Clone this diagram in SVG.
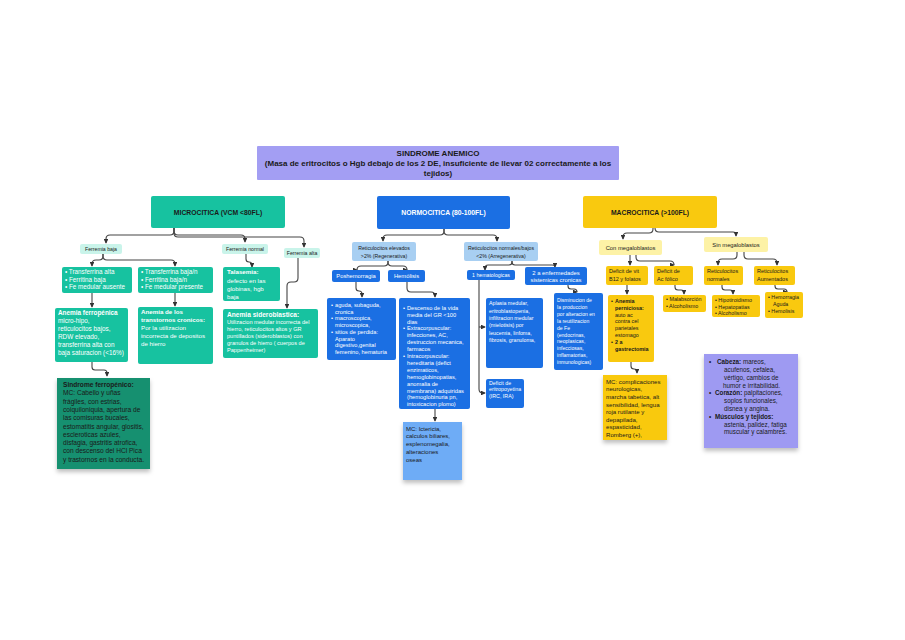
<svg xmlns="http://www.w3.org/2000/svg" width="905" height="640" viewBox="0 0 905 640">
<defs>
<style>
text{font-family:"Liberation Sans",Arial,sans-serif}
.w{fill:#ffffff}
.d{fill:#1a1a1a}
.b{font-weight:bold}
.c{text-anchor:middle}
.teal{fill:#17c2a0}
.mint{fill:#c9f4ea}
.blue{fill:#1b6fe3}
.lblue{fill:#a8cff2}
.yel{fill:#f9c90f}
.lyel{fill:#fdf2a6}
.lav{fill:#a39ef3}
.conn path{fill:none;stroke:#444;stroke-width:1.1;marker-end:url(#ah)}
</style>
<marker id="ah" viewBox="0 0 6 6" refX="5" refY="3" markerWidth="4.5" markerHeight="4.5" orient="auto"><path d="M0,0 L6,3 L0,6 z" fill="#333"/></marker>
<filter id="sh" x="-10%" y="-10%" width="120%" height="130%"><feDropShadow dx="0" dy="3" stdDeviation="2" flood-color="#000" flood-opacity="0.25"/></filter>
</defs>
<rect width="905" height="640" fill="#ffffff"/>

<g id="title">
<rect x="257" y="146" width="362" height="34" rx="1" class="lav"/>
<text x="438" y="156" font-size="8" class="d b c">SINDROME ANEMICO</text>
<text x="438" y="166" font-size="8" class="d b c">(Masa de eritrocitos o Hgb debajo de los 2 DE, insuficiente de llevar 02 correctamente a los</text>
<text x="438" y="175.5" font-size="8" class="d b c">tejidos)</text>
</g>

<g class="conn" id="connectors">
<path d="M174,228 v3 q0,4 -4,4 H110 q-4,0 -4,4 v4"/>
<path d="M174,228 v3 q0,4 4,4 H241 q4,0 4,4 v3"/>
<path d="M174,228 v5 q0,4 4,4 H300 q4,0 4,4 v6"/>
<path d="M103,254 v2 q0,4 -4,4 H96 q-4,0 -4,4 v2"/>
<path d="M103,254 v2 q0,4 4,4 H171 q4,0 4,4 v2"/>
<path d="M246,254 v5 q0,3 3,3 h0 q3,0 3,3 v2"/>
<path d="M298,258 v20 q0,4 -4,4 h-3 q-4,0 -4,4 v22"/>
<path d="M92,293 V307"/>
<path d="M175,293 V306"/>
<path d="M92,362 v5 q0,3 3,3 h9 q3,0 3,3 v3"/>
<path d="M444,229 v2 q0,4 -4,4 H387 q-4,0 -4,4 v2"/>
<path d="M444,229 v2 q0,4 4,4 H493 q4,0 4,4 v2"/>
<path d="M388,261 v1 q0,4 -4,4 H361 q-4,0 -4,4 v0"/>
<path d="M388,261 v1 q0,4 4,4 H403 q4,0 4,4 v0"/>
<path d="M512,261 v1 q0,3 -3,3 H488 q-3,0 -3,3 v2"/>
<path d="M512,261 v1 q0,3 3,3 H552 q3,0 3,2"/>
<path d="M356,282 v6 q0,3 3,3 h0 q3,0 3,3 v3"/>
<path d="M407,282 v6 q0,4 4,4 H431 q4,0 4,4 v1"/>
<path d="M435,409 V421"/>
<path d="M479,280 V389 q0,4 4,4 H485"/>
<path d="M479,327 H485"/>
<path d="M568,285 v1 q0,3 3,3 h3 q3,0 3,3 v0"/>
<path d="M653,228 v1 q0,4 -4,4 H627 q-4,0 -4,4 v2"/>
<path d="M655,228 q0,4 4,4 H733 q3,0 3,3 v1"/>
<path d="M630,255 V265"/>
<path d="M636,255 v2 q0,4 4,4 H670 q4,0 4,4 v0"/>
<path d="M737,252 v3 q0,4 -4,4 H722 q-4,0 -4,4 v2"/>
<path d="M744,252 v3 q0,4 4,4 H773 q4,0 4,4 v2"/>
<path d="M627,285 V294"/>
<path d="M675,285 v2 q0,3 3,3 h3 q3,0 3,3 v1"/>
<path d="M722,285 v2 q0,3 3,3 h5 q3,0 3,3 v1"/>
<path d="M775,285 v1 q0,3 3,3 h6 q3,0 3,3 v0"/>
<path d="M631,362 v4 q0,3 3,3 h0 q3,0 3,3 v1"/>
</g>

<g id="microcitica">
<rect x="151" y="196" width="134" height="32" rx="2" class="teal"/>
<text x="218" y="214.5" font-size="6.8" class="d b c">MICROCITICA (VCM &lt;80FL)</text>
</g>
<g id="normocitica">
<rect x="377" y="196" width="133" height="33" rx="2" class="blue"/>
<text x="443.5" y="215" font-size="6.8" class="w b c">NORMOCITICA (80-100FL)</text>
</g>
<g id="macrocitica">
<rect x="583" y="196" width="134" height="32" rx="2" class="yel"/>
<text x="650" y="214.5" font-size="6.8" class="d b c">MACROCITICA (&gt;100FL)</text>
</g>

<g id="ferremia-baja">
<rect x="80" y="244" width="42" height="10" rx="2" class="mint"/>
<text x="101" y="251" font-size="5.2" class="d c">Ferremia baja</text>
</g>
<g id="ferremia-normal">
<rect x="222" y="244" width="46" height="10" rx="2" class="mint"/>
<text x="245" y="251" font-size="5.2" class="d c">Ferremia normal</text>
</g>
<g id="ferremia-alta">
<rect x="284" y="248" width="36" height="10" rx="2" class="mint"/>
<text x="302" y="255" font-size="5.2" class="d c">Ferremia alta</text>
</g>

<g id="transferrina-alta">
<rect x="62" y="267" width="70" height="26" rx="2" class="teal"/>
<text font-size="6.3" class="w"><tspan x="65" y="274">• Transferrina alta</tspan><tspan x="65" y="281.5">• Ferritina baja</tspan><tspan x="65" y="289">• Fe medular ausente</tspan></text>
</g>
<g id="transferrina-baja">
<rect x="138" y="267" width="75" height="26" rx="2" class="teal"/>
<text font-size="6.3" class="w"><tspan x="141" y="274">• Transferrina baja/n</tspan><tspan x="141" y="281.5">• Ferritina baja/n</tspan><tspan x="141" y="289">• Fe medular presente</tspan></text>
</g>
<g id="talasemia">
<rect x="223" y="267" width="57" height="34" rx="2" class="teal"/>
<text font-size="6.2" class="w"><tspan x="227" y="274" class="b">Talasemia:</tspan><tspan x="227" y="283">defecto en las</tspan><tspan x="227" y="291">globinas, hgb</tspan><tspan x="227" y="299">baja</tspan></text>
</g>

<g id="anemia-ferropenica">
<rect x="55" y="308" width="73" height="54" rx="2" class="teal"/>
<text font-size="6.4" class="w"><tspan x="58" y="314.5" class="b">Anemia ferropénica</tspan><tspan x="58" y="322.5">micro-hipo,</tspan><tspan x="58" y="330.7">reticulocitos bajos,</tspan><tspan x="58" y="339">RDW elevado,</tspan><tspan x="58" y="347.2">transferrina alta con</tspan><tspan x="58" y="355.4">baja saturacion (&lt;16%)</tspan></text>
</g>
<g id="anemia-cronicos">
<rect x="138" y="307" width="75" height="57" rx="2" class="teal"/>
<text font-size="6.2" class="w"><tspan x="141" y="313.5" class="b">Anemia de los</tspan><tspan x="141" y="321.5" class="b">transtornos cronicos:</tspan><tspan x="141" y="329.5">Por la utilizacion</tspan><tspan x="141" y="337.5">incorrecta de depositos</tspan><tspan x="141" y="345.5">de hierro</tspan></text>
</g>
<g id="anemia-sideroblastica">
<rect x="223" y="309" width="95" height="49" rx="2" class="teal"/>
<text x="227" y="317" font-size="6.6" class="w b">Anemia sideroblastica:</text>
<text font-size="5.6" class="w"><tspan x="227" y="323.5">Utilizacion medular incorrecta del</tspan><tspan x="227" y="330.5">hierro, reticulocitos altos y GR</tspan><tspan x="227" y="337.5">puntillados (sideroblastos) con</tspan><tspan x="227" y="344.5">granulos de hierro ( cuerpos de</tspan><tspan x="227" y="351.5">Pappenheimer)</tspan></text>
</g>
<g id="sindrome-ferropenico">
<rect x="57" y="378" width="93" height="91" fill="#15906f" filter="url(#sh)"/>
<text font-size="6.6" class="d"><tspan x="63" y="387" class="b">Sindrome ferropénico:</tspan><tspan x="63" y="395.3">MC: Cabello y uñas</tspan><tspan x="63" y="403.6">frágiles, con estrias,</tspan><tspan x="63" y="412">coiquiloniquia, apertura de</tspan><tspan x="63" y="420.2">las comisuras bucales,</tspan><tspan x="63" y="428.5">estomatitis angular, glositis,</tspan><tspan x="63" y="436.8">escleroticas azules,</tspan><tspan x="63" y="445.1">disfagia, gastritis atrofica,</tspan><tspan x="63" y="453.4">con descenso del HCl Pica</tspan><tspan x="63" y="461.7">y trastornos en la conducta.</tspan></text>
</g>

<g id="ret-elevados">
<rect x="352" y="242" width="64" height="19" rx="2" class="lblue"/>
<text font-size="5.2" class="d c"><tspan x="384" y="250">Reticulocitos elevados</tspan><tspan x="384" y="258">&gt;2%  (Regenerativa)</tspan></text>
</g>
<g id="ret-normales-bajos">
<rect x="464" y="242" width="74" height="19" rx="2" class="lblue"/>
<text font-size="5.2" class="d c"><tspan x="501" y="250">Reticulocitos normales/bajos</tspan><tspan x="501" y="258">&lt;2% (Arregenerativa)</tspan></text>
</g>
<g id="poshemorragia">
<rect x="332" y="270" width="48" height="12" rx="2" class="blue"/>
<text x="356" y="278.3" font-size="5.8" class="w c">Poshemorragia</text>
</g>
<g id="hemolisis">
<rect x="388" y="270" width="37" height="12" rx="2" class="blue"/>
<text x="406.5" y="278.3" font-size="5.8" class="w c">Hemólisis</text>
</g>
<g id="hematologicas">
<rect x="467" y="270" width="48" height="10" rx="2" class="blue"/>
<text x="491" y="277" font-size="5.2" class="w c">1 hematologicas</text>
</g>
<g id="sistemicas">
<rect x="525" y="267" width="62" height="18" rx="2" class="blue"/>
<text font-size="5.9" class="w c"><tspan x="556" y="274.5">2 a enfermedades</tspan><tspan x="556" y="282.3">sistemicas cronicas</tspan></text>
</g>
<g id="agudas">
<rect x="327" y="298" width="69" height="62" rx="2" class="blue"/>
<text font-size="5.7" class="w"><tspan x="331" y="307">•</tspan><tspan x="335" y="307">aguda, subaguda,</tspan><tspan x="335" y="313.7">cronica</tspan><tspan x="331" y="320.4">•</tspan><tspan x="335" y="320.4">macroscopica,</tspan><tspan x="335" y="327.1">microscopica,</tspan><tspan x="331" y="333.8">•</tspan><tspan x="335" y="333.8">sitios de perdida:</tspan><tspan x="335" y="340.5">Aparato</tspan><tspan x="335" y="347.2">digestivo,genital</tspan><tspan x="335" y="353.9">femenino, hematuria</tspan></text>
</g>
<g id="descenso">
<rect x="399" y="298" width="71" height="111" rx="2" class="blue"/>
<text font-size="5.7" class="w"><tspan x="403" y="309.7">•</tspan><tspan x="407" y="309.7">Descenso de la vida</tspan><tspan x="407" y="316.6">media del GR &lt;100</tspan><tspan x="407" y="323.5">dias</tspan><tspan x="403" y="330.4">•</tspan><tspan x="407" y="330.4">Extracorpuscular:</tspan><tspan x="407" y="337.3">infecciones, AC,</tspan><tspan x="407" y="344.2">destruccion mecanica,</tspan><tspan x="407" y="351.1">farmacos</tspan><tspan x="403" y="358">•</tspan><tspan x="407" y="358">Intracorpuscular:</tspan><tspan x="407" y="364.9">hereditaria (defict</tspan><tspan x="407" y="371.8">enzimaticos,</tspan><tspan x="407" y="378.7">hemoglobinopatias,</tspan><tspan x="407" y="385.6">anomalia de</tspan><tspan x="407" y="392.5">membrana) adquiridas</tspan><tspan x="407" y="399.4">(hemoglobinuria pn,</tspan><tspan x="407" y="406.3">intoxicacion plomo)</tspan></text>
</g>
<g id="mc-ictericia">
<rect x="403" y="422" width="59" height="58" fill="#6eacf6" filter="url(#sh)"/>
<text font-size="6" class="d"><tspan x="406" y="430.5">MC: Ictericia,</tspan><tspan x="406" y="438.3">calculos biliares,</tspan><tspan x="406" y="446.1">esplenomegalia,</tspan><tspan x="406" y="453.9">alteraciones</tspan><tspan x="406" y="461.7">oseas</tspan></text>
</g>
<g id="aplasia">
<rect x="486" y="298" width="57" height="70" rx="2" class="blue"/>
<text font-size="5.3" class="w"><tspan x="489" y="305.3">Aplasia medular,</tspan><tspan x="489" y="312.6">eritroblastopenia,</tspan><tspan x="489" y="319.9">infiltracion medular</tspan><tspan x="489" y="327.2">(mielotisis) por</tspan><tspan x="489" y="334.5">leucemia, linfoma,</tspan><tspan x="489" y="341.8">fibrosis, granuloma,</tspan></text>
</g>
<g id="eritropoyetina">
<rect x="486" y="379" width="38" height="29" rx="2" class="blue"/>
<text font-size="5.3" class="w"><tspan x="489" y="384.5">Deficit de</tspan><tspan x="489" y="391.3">eritropoyetina</tspan><tspan x="489" y="398.1">(IRC, IRA)</tspan></text>
</g>
<g id="disminucion">
<rect x="554" y="293" width="49" height="77" rx="2" class="blue"/>
<text font-size="5.1" class="w"><tspan x="557" y="302">Disminucion de</tspan><tspan x="557" y="308.9">la produccion</tspan><tspan x="557" y="315.8">por alteracion en</tspan><tspan x="557" y="322.7">la reutilizacion</tspan><tspan x="557" y="329.6">de Fe</tspan><tspan x="557" y="336.5">(endocrinas,</tspan><tspan x="557" y="343.4">neoplasicas,</tspan><tspan x="557" y="350.3">infecciosas,</tspan><tspan x="557" y="357.2">inflamatorias,</tspan><tspan x="557" y="364.1">inmunologicas)</tspan></text>
</g>

<g id="con-megaloblastos">
<rect x="599" y="240" width="63" height="15" rx="2" class="lyel"/>
<text x="630.5" y="249.5" font-size="5.8" class="d c">Con megaloblastos</text>
</g>
<g id="sin-megaloblastos">
<rect x="704" y="237" width="64" height="15" rx="2" class="lyel"/>
<text x="736" y="246.5" font-size="5.8" class="d c">Sin megaloblastos</text>
</g>
<g id="deficit-b12">
<rect x="606" y="266" width="42" height="19" rx="2" class="yel"/>
<text font-size="5.5" class="d"><tspan x="609" y="273.3">Deficit de vit</tspan><tspan x="609" y="281.3">B12 y folatos</tspan></text>
</g>
<g id="deficit-folico">
<rect x="654" y="266" width="39" height="19" rx="2" class="yel"/>
<text font-size="5.5" class="d"><tspan x="657" y="273.3">Deficit de</tspan><tspan x="657" y="281.3">Ac fólico</tspan></text>
</g>
<g id="ret-normales">
<rect x="704" y="266" width="39" height="19" rx="2" class="yel"/>
<text font-size="5.5" class="d"><tspan x="707" y="273.3">Reticulocitos</tspan><tspan x="707" y="281.3">normales</tspan></text>
</g>
<g id="ret-aumentados">
<rect x="754" y="266" width="41" height="19" rx="2" class="yel"/>
<text font-size="5.5" class="d"><tspan x="757" y="273.3">Reticulocitos</tspan><tspan x="757" y="281.3">Aumentados</tspan></text>
</g>
<g id="perniciosa">
<rect x="608" y="295" width="46" height="67" rx="2" class="yel"/>
<text font-size="5.4" class="d"><tspan x="611" y="303" class="b">•</tspan><tspan x="615" y="303" class="b">Anemia</tspan><tspan x="615" y="309.8" class="b">perniciosa:</tspan><tspan x="615" y="316.6">auto ac</tspan><tspan x="615" y="323.4">contra cel</tspan><tspan x="615" y="330.2">parietales</tspan><tspan x="615" y="337">estomago</tspan><tspan x="611" y="343.8" class="b">•</tspan><tspan x="615" y="343.8" class="b">2 a</tspan><tspan x="615" y="350.6" class="b">gastrectomia</tspan></text>
</g>
<g id="malabsorcion">
<rect x="663" y="295" width="43" height="17" rx="2" class="yel"/>
<text font-size="5.4" class="d"><tspan x="666" y="301.3">• Malabsorción</tspan><tspan x="666" y="308">• Alcoholismo</tspan></text>
</g>
<g id="mc-complicaciones">
<rect x="603" y="375" width="64" height="65" class="yel" filter="url(#sh)"/>
<text font-size="6.1" class="d"><tspan x="606" y="383.7">MC: complicaciones</tspan><tspan x="606" y="391.3">neurologicas,</tspan><tspan x="606" y="398.9">marcha tabetica, alt</tspan><tspan x="606" y="406.5">sensibilidad, lengua</tspan><tspan x="606" y="414.1">roja rutilante y</tspan><tspan x="606" y="421.7">depapilada,</tspan><tspan x="606" y="429.3">espasticidad,</tspan><tspan x="606" y="436.9">Romberg (+),</tspan></text>
</g>
<g id="hipotiroidismo">
<rect x="712" y="295" width="48" height="22" rx="2" class="yel"/>
<text font-size="5.3" class="d"><tspan x="715" y="302">• Hipotiroidismo</tspan><tspan x="715" y="308.7">• Hepatopatias</tspan><tspan x="715" y="315.4">• Alcoholismo</tspan></text>
</g>
<g id="hemorragia">
<rect x="765" y="292" width="38" height="26" rx="2" class="yel"/>
<text font-size="5.3" class="d"><tspan x="768" y="299.3">• Hemorragia</tspan><tspan x="773" y="306">Aguda</tspan><tspan x="768" y="312.7">• Hemolisis</tspan></text>
</g>
<g id="manifestaciones">
<rect x="704" y="354" width="94" height="94" fill="#9e9af2" filter="url(#sh)"/>
<text font-size="6.3" class="d"><tspan x="709" y="364.3">•</tspan><tspan x="717" y="364.3" class="b">Cabeza:</tspan><tspan> mareos,</tspan><tspan x="724" y="372">acufenos, cefalea,</tspan><tspan x="724" y="379.8">vértigo, cambios de</tspan><tspan x="723" y="387.6">humor e irritabilidad.</tspan><tspan x="709" y="395.4">•</tspan><tspan x="715" y="395.4" class="b">Corazón:</tspan><tspan> palpitaciones,</tspan><tspan x="724" y="403.2">soplos funcionales,</tspan><tspan x="724" y="411">disnea y angina.</tspan><tspan x="709" y="418.8">•</tspan><tspan x="715" y="418.8" class="b">Músculos y tejidos:</tspan><tspan x="724" y="426.6">astenia, palidez, fatiga</tspan><tspan x="724" y="434.4">muscular y calambres.</tspan></text>
</g>
</svg>
